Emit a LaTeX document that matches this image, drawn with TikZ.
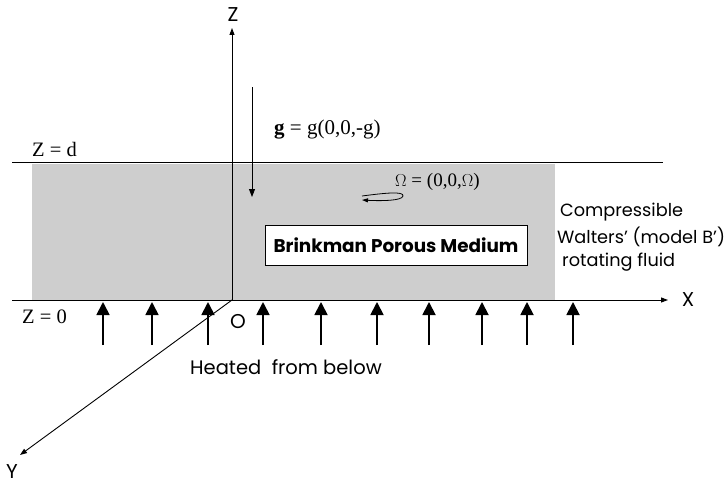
\documentclass[tikz,border=0pt]{standalone}
\usepackage{fontspec}
\setmainfont{Liberation Serif}
\newfontfamily\gothic{Poppins}
\usetikzlibrary{arrows.meta}
\begin{document}
\begin{tikzpicture}[x=1pt,y=-1pt,
  axis/.style={line width=0.9pt,-{Triangle[width=5pt,length=7pt]}},
  heat/.style={line width=1.8pt,-{Triangle[width=13pt,length=13pt]}},
  sans/.style={font=\gothic\fontsize{17.7}{21}\selectfont, inner sep=0pt},
  serif/.style={font=\fontsize{20.5}{22}\selectfont, inner sep=0pt},
  plate/.style={line width=1pt}]
\useasboundingbox (0,0) rectangle (725,487);
% porous layer
\fill[fill={rgb,255:red,206;green,206;blue,206}] (32,164) rectangle (555,300);
% plates
\draw[plate] (12,162) -- (663,162);
\coordinate (O) at (232,300);
\coordinate (xl) at (12,300);
\coordinate (xe) at (668,300);
\coordinate (ze) at (232,28);
\coordinate (ye) at (20,455);
\draw[axis] (xl) -- (xe);
\draw[axis] (O) -- (ze);
\draw[axis] (O) -- (ye);
\node[sans,font=\gothic\fontsize{20}{21}\selectfont] (X) at (688,300) {X};
\node[sans,font=\gothic\fontsize{20}{21}\selectfont] (Z) at (233,15) {Z};
\node[sans,font=\gothic\fontsize{20}{21}\selectfont] (Y) at (12,472) {Y};
\node[sans,font=\gothic\fontsize{20}{21}\selectfont] (o) at (238,322) {O};
% labels of plates
\node[serif,anchor=west] (zd) at (32,149) {Z = d};
\node[serif,anchor=west] (z0) at (22,317) {Z = 0};
% gravity
\coordinate (g1) at (252,87);
\coordinate (g2) at (252,197);
\draw[line width=0.9pt,-{Triangle[width=6pt,length=8pt]}] (g1) -- (g2);
\node[serif,font=\fontsize{21}{22}\selectfont,anchor=west] (g) at (274,130) {\textbf{g} = g(0,0,-g)};
% rotation
\node[serif,font=\fontsize{19}{20}\selectfont,anchor=west] (om) at (395,182) {$\Omega$ = (0,0,$\Omega$)};
\draw[line width=0.8pt,-{Triangle[width=4pt,length=6pt]}] (362,196) .. controls (385,193) and (404,191) .. (403,196) .. controls (402,201) and (380,201) .. (362,200);
% box
\node[draw,line width=0.9pt,fill=white,minimum width=262pt,minimum height=40pt,inner sep=0pt,
  font=\gothic\bfseries\fontsize{18.4}{20}\selectfont] (box) at (396,245) {Brinkman Porous Medium};
% fluid label
\node[sans,anchor=west] (c1) at (560,212) {Compressible};
\node[sans,anchor=west] (c2) at (557,237) {Walters’ (model B’)};
\node[sans,anchor=west] (c3) at (562,262) {rotating fluid};
% heating arrows
\foreach \xx [count=\i] in {103,152,208,263,321,377,429,482,527,573}{
  \coordinate (hb\i) at (\xx,345);
  \coordinate (ht\i) at (\xx,302);
  \draw[heat] (hb\i) -- (ht\i);
}
\node[sans,font=\gothic\fontsize{19.5}{21}\selectfont,anchor=west] (heated) at (190,367) {Heated\ \ from below};
\end{tikzpicture}
\end{document}
